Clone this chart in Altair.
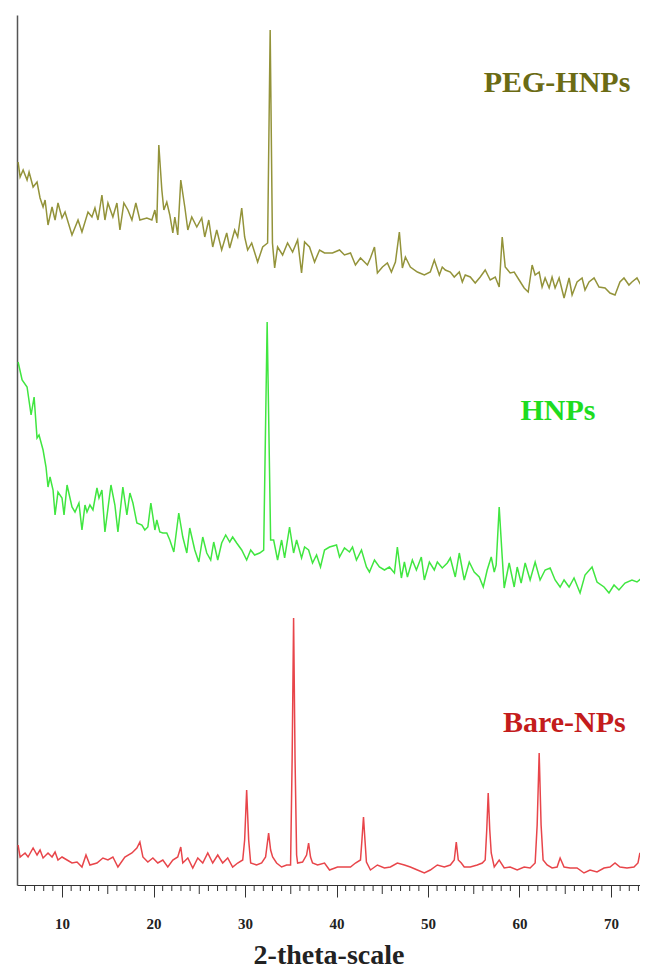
import altair as alt
import pandas as pd

series_names = ["PEG-HNPs", "HNPs", "Bare-NPs"]
line_colors = ["#93933a", "#40e640", "#e8454a"]
text_colors = ["#6b6b14", "#1fdc1f", "#c41c1c"]

peg_theta = [5.2, 5.42, 5.75, 6.18, 6.4, 6.84, 7.27, 7.6, 7.93, 8.15,
             8.47, 8.91, 9.24, 9.56, 10.0, 10.33, 11.09, 11.75, 12.18, 12.84,
             13.27, 13.6, 13.93, 14.36, 14.69, 15.02, 15.56, 16.0, 16.33, 16.76,
             17.2, 17.64, 18.07, 18.51, 19.27, 19.82, 20.15, 20.36, 20.58, 20.91,
             21.13, 21.45, 21.78, 22.11, 22.33, 22.65, 22.98, 23.42, 23.75, 24.18,
             24.73, 25.27, 25.6, 26.04, 26.47, 26.91, 27.45, 28.0, 28.33, 28.87,
             29.2, 29.64, 29.96, 30.29, 30.73, 31.38, 31.93, 32.47, 32.75, 33.0,
             33.24, 33.56, 34.11, 34.65, 35.2, 35.75, 36.18, 36.51, 37.05, 37.6,
             38.15, 38.69, 39.56, 40.33, 40.87, 41.53, 42.07, 42.62, 43.38, 43.71,
             44.15, 44.47, 45.02, 45.56, 46.0, 46.44, 46.87, 47.2, 47.53, 48.07,
             48.84, 49.6, 50.25, 50.69, 51.24, 51.56, 51.89, 52.44, 52.87, 53.42,
             53.75, 54.07, 54.62, 55.16, 55.71, 56.25, 56.8, 57.35, 57.78, 58.11,
             58.44, 58.98, 59.42, 59.96, 60.51, 60.95, 61.38, 61.71, 62.15, 62.47,
             62.8, 63.24, 63.56, 63.89, 64.33, 64.87, 65.42, 65.75, 66.29, 66.84,
             67.16, 67.6, 68.15, 68.69, 69.35, 69.89, 70.44, 70.98, 71.42, 71.96,
             72.29, 72.84, 73.38, 73.93]
peg_int = [723, 708, 715, 705, 713, 698, 703, 687, 678, 685,
           660, 678, 665, 682, 667, 673, 650, 665, 653, 673,
           668, 677, 665, 690, 665, 682, 668, 682, 655, 682,
           675, 665, 682, 665, 667, 665, 675, 662, 740, 695,
           675, 683, 670, 652, 668, 650, 705, 678, 655, 668,
           658, 667, 648, 665, 638, 655, 635, 652, 637, 655,
           648, 677, 648, 635, 642, 623, 638, 642, 855, 642,
           617, 638, 630, 642, 633, 645, 612, 643, 638, 623,
           635, 632, 632, 635, 630, 632, 620, 627, 620, 627,
           638, 612, 618, 622, 613, 623, 653, 617, 628, 618,
           613, 610, 613, 625, 610, 618, 615, 613, 608, 613,
           603, 610, 608, 602, 608, 615, 605, 608, 598, 648,
           618, 612, 613, 605, 597, 593, 620, 610, 613, 598,
           607, 597, 608, 597, 607, 587, 607, 590, 603, 607,
           595, 603, 607, 598, 597, 592, 590, 603, 607, 600,
           603, 607, 598, 595]

hnp_theta = [5.2, 5.64, 6.18, 6.62, 6.95, 7.27, 7.49, 7.93, 8.25, 8.47,
             8.69, 9.02, 9.24, 9.56, 10.0, 10.22, 10.55, 11.09, 11.42, 11.85,
             12.18, 12.51, 12.73, 13.05, 13.38, 13.82, 14.04, 14.36, 14.69, 15.35,
             15.78, 16.11, 16.65, 17.09, 17.42, 17.75, 18.18, 18.73, 19.05, 19.38,
             19.71, 20.15, 20.36, 20.69, 21.02, 21.45, 21.78, 22.22, 22.76, 23.2,
             23.64, 23.96, 24.51, 24.95, 25.38, 25.82, 26.25, 26.58, 27.02, 27.45,
             27.89, 28.33, 28.65, 29.09, 29.64, 30.18, 30.62, 31.05, 31.6, 32.04,
             32.42, 32.8, 33.13, 33.56, 34.0, 34.33, 34.87, 35.31, 35.64, 36.18,
             36.51, 36.95, 37.38, 37.82, 38.25, 38.69, 39.24, 40.0, 40.33, 40.87,
             41.42, 41.75, 42.18, 42.73, 43.27, 43.6, 44.15, 44.69, 45.24, 45.78,
             46.33, 46.65, 47.09, 47.42, 47.75, 48.29, 48.73, 49.27, 49.6, 50.15,
             50.69, 51.02, 51.56, 52.11, 52.44, 52.98, 53.42, 53.96, 54.51, 55.05,
             55.6, 56.04, 56.47, 56.91, 57.24, 57.45, 57.78, 58.11, 58.33, 58.87,
             59.42, 59.75, 60.18, 60.62, 61.16, 61.71, 62.25, 62.8, 63.35, 63.89,
             64.44, 64.87, 65.42, 65.96, 66.62, 67.16, 67.93, 68.47, 69.24, 69.78,
             70.33, 70.87, 71.53, 72.29, 72.84, 73.38, 73.93]
hnp_int = [523, 505, 498, 470, 488, 447, 450, 435, 418, 398,
           408, 395, 370, 393, 387, 370, 400, 378, 373, 382,
           355, 380, 373, 380, 375, 397, 387, 395, 353, 400,
           380, 353, 398, 370, 392, 382, 362, 360, 355, 358,
           382, 355, 365, 353, 352, 352, 345, 333, 372, 348,
           332, 357, 335, 323, 348, 332, 325, 343, 325, 342,
           350, 343, 348, 342, 335, 325, 335, 330, 332, 335,
           563, 345, 345, 325, 345, 327, 358, 332, 345, 327,
           338, 335, 322, 330, 318, 335, 338, 340, 328, 337,
           333, 338, 325, 335, 318, 313, 325, 318, 315, 318,
           312, 338, 307, 323, 308, 325, 315, 328, 305, 323,
           315, 323, 317, 322, 327, 308, 332, 305, 323, 313,
           308, 298, 315, 328, 313, 320, 378, 328, 297, 322,
           298, 318, 302, 322, 305, 323, 305, 315, 317, 305,
           298, 305, 298, 307, 292, 310, 318, 303, 298, 292,
           300, 295, 302, 305, 303, 307, 308]

bare_theta = [5.2, 5.42, 5.96, 6.29, 6.84, 7.27, 7.6, 7.93, 8.47, 8.91,
              9.24, 9.56, 10.0, 10.55, 11.09, 11.64, 12.18, 12.62, 13.05, 13.82,
              14.47, 15.02, 15.56, 16.11, 16.87, 17.64, 18.18, 18.51, 18.84, 19.38,
              19.93, 20.47, 21.02, 21.56, 22.11, 22.65, 22.98, 23.2, 23.75, 24.29,
              24.84, 25.38, 25.93, 26.47, 27.02, 27.56, 28.11, 28.65, 29.2, 29.75,
              29.96, 30.18, 30.4, 30.62, 31.27, 31.82, 32.25, 32.58, 32.8, 33.02,
              33.45, 34.0, 34.55, 34.98, 35.15, 35.31, 35.47, 35.64, 35.75, 36.29,
              36.73, 36.95, 37.16, 37.38, 37.93, 38.69, 39.24, 40.11, 40.98, 41.53,
              42.07, 42.62, 42.78, 42.95, 43.11, 43.27, 43.71, 44.47, 45.24, 45.89,
              46.65, 47.42, 48.07, 48.84, 49.6, 50.25, 51.02, 51.78, 52.44, 52.87,
              53.09, 53.31, 53.64, 53.96, 54.62, 55.38, 55.93, 56.25, 56.42, 56.58,
              56.75, 56.91, 57.24, 57.78, 58.33, 58.98, 59.75, 60.51, 61.16, 61.71,
              61.93, 62.15, 62.36, 62.58, 63.02, 63.56, 64.11, 64.44, 64.87, 65.53,
              66.29, 67.05, 67.71, 68.47, 69.24, 69.89, 70.44, 70.98, 71.75, 72.51,
              72.95, 73.16, 73.38, 73.6, 73.93]
bare_int = [40, 28, 32, 28, 37, 30, 35, 27, 32, 28,
            33, 25, 28, 25, 22, 23, 18, 30, 20, 22,
            27, 25, 28, 18, 28, 32, 37, 43, 28, 23,
            27, 22, 25, 18, 25, 28, 38, 22, 27, 17,
            27, 22, 32, 22, 30, 22, 27, 18, 22, 25,
            45, 95, 45, 22, 20, 22, 28, 52, 35, 28,
            22, 18, 20, 20, 125, 267, 125, 30, 22, 23,
            30, 42, 28, 22, 20, 22, 15, 18, 18, 18,
            22, 25, 45, 68, 45, 23, 15, 20, 17, 18,
            22, 20, 18, 15, 12, 15, 20, 18, 20, 25,
            43, 25, 22, 18, 18, 20, 22, 25, 55, 92,
            55, 32, 18, 25, 17, 18, 15, 18, 17, 22,
            60, 132, 60, 25, 20, 17, 18, 27, 18, 17,
            17, 12, 15, 13, 17, 18, 22, 18, 17, 18,
            22, 32, 22, 22, 17]

label_theta = [64.1, 64.2, 64.9]
label_int = [793, 465, 153]

major_ticks = [10, 20, 30, 40, 50, 60, 70]
mid_ticks = [15, 25, 35, 45, 55, 65]
minor_ticks = [v for v in range(6, 74) if v % 5 != 0]

x_domain = [5.08, 73.17]
y_domain = [0, 870]

series_data = [(peg_theta, peg_int), (hnp_theta, hnp_int), (bare_theta, bare_int)]
rows = []
for name, (th, it) in zip(series_names, series_data):
    assert len(th) == len(it), name
    rows += [{"theta": t, "intensity": i, "series": name} for t, i in zip(th, it)]
df = pd.DataFrame(rows)

serif = "Liberation Serif"
xscale = alt.Scale(domain=x_domain, nice=False, zero=False)
yscale = alt.Scale(domain=y_domain, nice=False, zero=False)

x_axis = alt.Axis(values=major_ticks, format="d", title="2-theta-scale",
                  grid=False, tickSize=12, tickColor="#333", tickWidth=1,
                  domainColor="#333", domainWidth=1.2,
                  labelFont=serif, labelFontSize=15, labelFontWeight="bold",
                  labelColor="#222", labelPadding=19,
                  titleFont=serif, titleFontSize=28, titleFontWeight="bold",
                  titleColor="#222", titlePadding=10)
y_axis = alt.Axis(labels=False, ticks=False, title=None, grid=False,
                  domainColor="#555", domainWidth=1.5)


def x_enc():
    return alt.X("theta:Q", scale=xscale, axis=x_axis)


def y_enc():
    return alt.Y("intensity:Q", scale=yscale, axis=y_axis)


lines = alt.Chart(df).mark_line(strokeWidth=1.5, clip=True).encode(
    x=x_enc(), y=y_enc(),
    color=alt.Color("series:N", scale=alt.Scale(domain=series_names, range=line_colors),
                    legend=None),
)

minor = alt.Chart(pd.DataFrame({"theta": minor_ticks})).mark_rule(
    color="#333", strokeWidth=1).encode(
    x=x_enc(), y=alt.value(870), y2=alt.value(876))

mid = alt.Chart(pd.DataFrame({"theta": mid_ticks})).mark_rule(
    color="#333", strokeWidth=1).encode(
    x=x_enc(), y=alt.value(870), y2=alt.value(879))

layers = [lines, minor, mid]
for name, c, tx, ty in zip(series_names, text_colors, label_theta, label_int):
    layers.append(
        alt.Chart(pd.DataFrame({"theta": [tx], "intensity": [ty], "label": [name]}))
        .mark_text(font=serif, fontSize=30, fontWeight="bold", color=c,
                   align="center", baseline="alphabetic")
        .encode(x=x_enc(), y=y_enc(), text="label:N")
    )

chart = alt.layer(*layers).properties(
    width=623, height=870,
    padding={"left": 9, "top": 7, "right": 0, "bottom": 0},
    background="white",
).configure_view(stroke=None)

chart.save("out.html", embed_options={"renderer": "svg", "actions": False})
